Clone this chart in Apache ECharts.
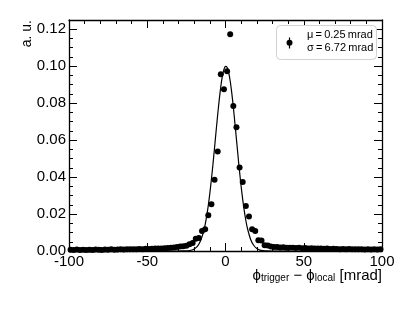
<!DOCTYPE html>
<html><head><meta charset="utf-8">
<script src="https://cdn.jsdelivr.net/npm/echarts@6/dist/echarts.min.js"></script>
<style>html,body{margin:0;padding:0;background:#fff}#c{width:415px;height:312px}</style>
</head><body><div id="c"></div>
<script>
// bin centres (mrad), 2 mrad bins
const binCenters = [-99,-97,-95,-93,-91,-89,-87,-85,-83,-81,-79,-77,-75,-73,-71,-69,-67,-65,-63,-61,
 -59,-57,-55,-53,-51,-49,-47,-45,-43,-41,-39,-37,-35,-33,-31,-29,-27,-25,-23,-21,
 -19,-17,-15,-13,-11,-9,-7,-5,-3,-1,1,3,5,7,9,11,13,15,17,19,
 21,23,25,27,29,31,33,35,37,39,41,43,45,47,49,51,53,55,57,59,
 61,63,65,67,69,71,73,75,77,79,81,83,85,87,89,91,93,95,97,99];
// normalised entries (a. u.)
const counts = [0.0007,0.0006,0.0008,0.0006,0.0007,0.0005,0.0007,0.0006,0.0008,0.0007,
 0.0006,0.0008,0.0007,0.0009,0.0007,0.0008,0.0009,0.0008,0.0010,0.0009,
 0.0010,0.0009,0.0011,0.0010,0.0012,0.0011,0.0012,0.0013,0.0014,0.0013,
 0.0015,0.0016,0.0017,0.0019,0.0021,0.0024,0.0026,0.0028,0.0037,0.0043,
 0.0066,0.0071,0.0108,0.0118,0.0193,0.0253,0.0385,0.0538,0.0956,0.0875,
 0.0972,0.1173,0.0784,0.0669,0.0452,0.0374,0.0244,0.0187,0.0118,0.0108,
 0.0058,0.0057,0.0031,0.0030,0.0025,0.0022,0.0021,0.0019,0.0020,0.0018,
 0.0017,0.0018,0.0016,0.0017,0.0015,0.0016,0.0014,0.0015,0.0013,0.0014,
 0.0013,0.0012,0.0013,0.0011,0.0012,0.0011,0.0010,0.0011,0.0010,0.0011,
 0.0009,0.0010,0.0009,0.0010,0.0008,0.0009,0.0008,0.0009,0.0008,0.0009];
// Gaussian fit curve
const fitX = [-40,-30,-26,-24,-22,-20,-18,-16,-14,-13,-12,-11,-10,-9,-8,-7,-6,-5,-4,-3,-2,-1,0,
 1,2,3,4,5,6,7,8,9,10,11,12,13,14,16,18,20,22,24,26,30,40];
const fitY = [0,0,0.00005,0.00015,0.0004,0.0011,0.0025,0.0054,0.0105,0.0143,0.019,0.0246,0.0313,0.0388,0.047,0.0559,0.0649,0.0737,0.0819,0.089,0.0946,0.0983,0.0999,
 0.0994,0.0967,0.092,0.0856,0.0779,0.0693,0.0604,0.0514,0.0428,0.0349,0.0278,0.0217,0.0165,0.0123,0.0064,0.0031,0.0013,0.0005,0.0002,0.00006,0,0];
const xRange = [-100, 100];
const yRange = [0, 0.125];
const legendLines = ['μ\u2009=\u20090.25\u2009mrad', 'σ\u2009=\u20096.72\u2009mrad'];
const xTitle = ['ϕ', 'trigger', ' − ϕ', 'local', ' [mrad]'];
const yTitle = 'a. u.';

const FONT = 'Liberation Sans, Arial, Helvetica, sans-serif';
const chart = echarts.init(document.getElementById('c'), null, {renderer: 'canvas'});
const pts = binCenters.map((x, i) => [x, counts[i]]);
const fit = fitX.map((x, i) => [x, fitY[i]]);

const xBase = {
  type: 'value', min: xRange[0], max: xRange[1], interval: 50,
  axisLine: {show: true, onZero: false, lineStyle: {color: '#000', width: 1.3}},
  axisTick: {show: true, inside: true, length: 8, lineStyle: {color: '#000'}},
  minorTick: {show: true, splitNumber: 5, length: 4, lineStyle: {color: '#000'}},
  splitLine: {show: false}, minorSplitLine: {show: false}
};
const yBase = {
  type: 'value', min: yRange[0], max: yRange[1], interval: 0.02,
  axisLine: {show: true, onZero: false, lineStyle: {color: '#000', width: 1.3}},
  axisTick: {show: true, inside: true, length: 8, lineStyle: {color: '#000'}},
  minorTick: {show: true, splitNumber: 4, length: 4, lineStyle: {color: '#000'}},
  splitLine: {show: false}, minorSplitLine: {show: false}
};

chart.setOption({
  animation: false,
  backgroundColor: '#fff',
  textStyle: {fontFamily: FONT},
  grid: {left: 69, right: 33, top: 20, bottom: 61, containLabel: false},
  xAxis: [
    Object.assign({}, xBase, {position: 'bottom',
      axisLabel: {show: true, color: '#000', fontSize: 15, fontFamily: FONT, margin: 3}}),
    Object.assign({}, xBase, {position: 'top', axisLabel: {show: false}})
  ],
  yAxis: [
    Object.assign({}, yBase, {position: 'left',
      axisLabel: {show: true, color: '#000', fontSize: 15, fontFamily: FONT, margin: 3,
        showMaxLabel: false, formatter: v => v.toFixed(2)}}),
    Object.assign({}, yBase, {position: 'right', axisLabel: {show: false}})
  ],
  series: [
    {type: 'scatter', xAxisIndex: 0, yAxisIndex: 0, data: pts, symbol: 'circle', symbolSize: 6,
      itemStyle: {color: '#000', opacity: 1}, z: 3},
    {type: 'line', xAxisIndex: 0, yAxisIndex: 0, data: fit, showSymbol: false, symbol: 'none',
      smooth: 0.2, lineStyle: {color: '#000', width: 1.2}, z: 4}
  ],
  graphic: [
    {type: 'text', right: 33, top: 268, style: {
      text: '{m|' + xTitle[0] + '}{s|' + xTitle[1] + '}{m|' + xTitle[2] + '}{s|' + xTitle[3] + '}{m|' + xTitle[4] + '}',
      fill: '#000',
      rich: {
        m: {fontSize: 15, lineHeight: 15, verticalAlign: 'bottom', fontFamily: FONT, fill: '#000'},
        s: {fontSize: 10, lineHeight: 10, verticalAlign: 'bottom', fontFamily: FONT, fill: '#000'}
      }}},
    {type: 'text', x: 27, y: 20, rotation: Math.PI / 2, style: {
      text: yTitle, fontSize: 14, fontFamily: FONT, fill: '#000', align: 'right', verticalAlign: 'middle'}},
    {type: 'rect', shape: {x: 276.5, y: 25.5, width: 100, height: 34, r: 4},
      style: {fill: '#fff', stroke: '#d2d2d2', lineWidth: 1}, z: 10},
    {type: 'line', shape: {x1: 289.5, y1: 37.5, x2: 289.5, y2: 48.5}, style: {stroke: '#000', lineWidth: 1.2}, z: 11},
    {type: 'circle', shape: {cx: 289.5, cy: 42.7, r: 3}, style: {fill: '#000'}, z: 11},
    {type: 'text', x: 307, y: 35, style: {text: legendLines[0], fontSize: 11, fontFamily: FONT, fill: '#000', verticalAlign: 'middle'}, z: 11},
    {type: 'text', x: 307, y: 48, style: {text: legendLines[1], fontSize: 11, fontFamily: FONT, fill: '#000', verticalAlign: 'middle'}, z: 11}
  ]
});
</script></body></html>
